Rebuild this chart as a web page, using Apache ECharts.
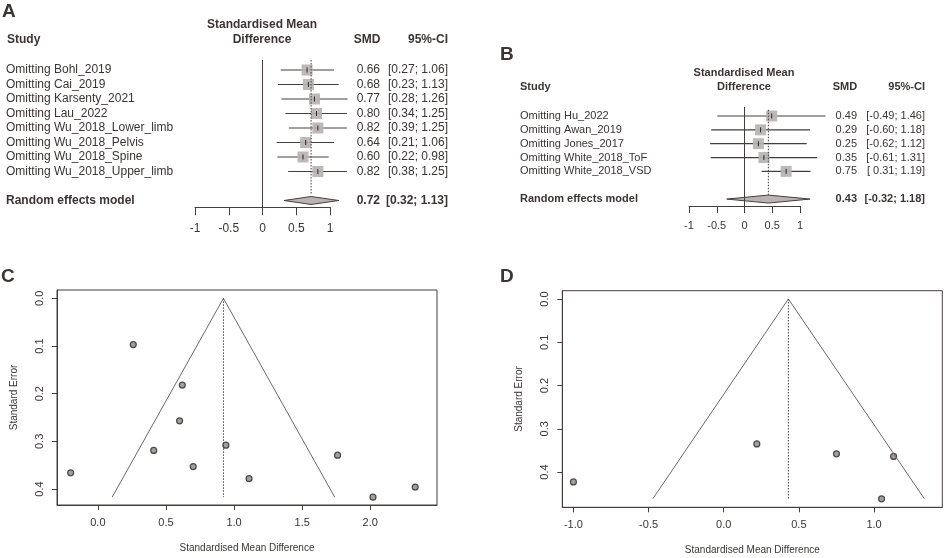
<!DOCTYPE html>
<html>
<head>
<meta charset="utf-8">
<script src="https://cdn.jsdelivr.net/npm/echarts@6/dist/echarts.min.js"></script>
<style>
  html, body { margin: 0; padding: 0; background: #fff; }
  #main { width: 948px; height: 558px; }
</style>
</head>
<body>
<div id="main"></div>
<script>
// 面板A：逐一剔除分析
const studiesA = ['Omitting Bohl_2019', 'Omitting Cai_2019', 'Omitting Karsenty_2021', 'Omitting Lau_2022',
  'Omitting Wu_2018_Lower_limb', 'Omitting Wu_2018_Pelvis', 'Omitting Wu_2018_Spine', 'Omitting Wu_2018_Upper_limb'];
const smdA = [0.66, 0.68, 0.77, 0.80, 0.82, 0.64, 0.60, 0.82];
const loA = [0.27, 0.23, 0.28, 0.34, 0.39, 0.21, 0.22, 0.38];
const hiA = [1.06, 1.13, 1.26, 1.25, 1.25, 1.06, 0.98, 1.25];
const pooledA = [0.72, 0.32, 1.13];
const ticksA = [-1, -0.5, 0, 0.5, 1];

// 面板B
const studiesB = ['Omitting Hu_2022', 'Omitting Awan_2019', 'Omitting Jones_2017', 'Omitting White_2018_ToF', 'Omitting White_2018_VSD'];
const smdB = [0.49, 0.29, 0.25, 0.35, 0.75];
const loB = [-0.49, -0.60, -0.62, -0.61, 0.31];
const hiB = [1.46, 1.18, 1.12, 1.31, 1.19];
const pooledB = [0.43, -0.32, 1.18];
const ticksB = [-1, -0.5, 0, 0.5, 1];

// 面板C：漏斗图
const smdC = [-0.20, 0.26, 0.62, 0.60, 0.41, 0.70, 0.94, 1.11, 1.76, 2.02, 2.33];
const seC = [0.366, 0.097, 0.182, 0.257, 0.319, 0.353, 0.308, 0.378, 0.329, 0.417, 0.396];
const funnelC = [[0.105, 0.417], [0.922, 0], [1.739, 0.417]];
const centerC = 0.922;
const xTicksC = [0, 0.5, 1, 1.5, 2];

// 面板D
const smdD = [-1.00, 0.22, 0.75, 1.13, 1.05];
const seD = [0.423, 0.335, 0.358, 0.364, 0.462];
const funnelD = [[-0.472, 0.462], [0.43, 0], [1.335, 0.462]];
const centerD = 0.43;
const xTicksD = [-1, -0.5, 0, 0.5, 1];
const yTicks = [0, 0.1, 0.2, 0.3, 0.4];

const FONT = '"Liberation Sans", Arial, sans-serif';
const TXT = '#3b3434';
const LINE = '#453e3e';

function ciText(lo, hi, pad) {
  return '[' + (pad && lo >= 0 ? ' ' : '') + lo.toFixed(2) + '; ' + hi.toFixed(2) + ']';
}

// 森林图数据行：研究行 0..n-1，合并结果隔一行
function makeForest(studies, smd, lo, hi, pooled, pad) {
  const n = studies.length;
  const rows = studies.map((s, i) => i).concat([n + 1]);
  const names = studies.concat(['{b|Random effects model}']);
  const smdTxt = smd.map(v => v.toFixed(2)).concat(['{b|' + pooled[0].toFixed(2) + '}']);
  const ciTxt = lo.map((v, i) => ciText(v, hi[i], pad)).concat(['{b|' + ciText(pooled[1], pooled[2], pad) + '}']);
  const items = smd.map((v, i) => [v, i, lo[i], hi[i]]);
  return { rows, names, smdTxt, ciTxt, items, pooled: [[pooled[0], n + 1, pooled[1], pooled[2]]] };
}
const fA = makeForest(studiesA, smdA, loA, hiA, pooledA, false);
const fB = makeForest(studiesB, smdB, loB, hiB, pooledB, true);

function studyItem(params, api) {
  const c = api.coord([api.value(0), api.value(1)]);
  const l = api.coord([api.value(2), api.value(1)]);
  const r = api.coord([api.value(3), api.value(1)]);
  const s = 11;
  return {
    type: 'group', children: [
      { type: 'line', shape: { x1: l[0], y1: l[1], x2: r[0], y2: r[1] }, style: { stroke: LINE, lineWidth: 1.2 } },
      { type: 'rect', shape: { x: c[0] - s / 2, y: c[1] - s / 2, width: s, height: s }, style: { fill: '#b9b3b3', opacity: 0.92 } },
      { type: 'line', shape: { x1: c[0], y1: c[1] - 2.5, x2: c[0], y2: c[1] + 2.5 }, style: { stroke: '#2a2424', lineWidth: 1 } }
    ]
  };
}
function diamondItem(params, api) {
  const c = api.coord([api.value(0), api.value(1)]);
  const l = api.coord([api.value(2), api.value(1)]);
  const r = api.coord([api.value(3), api.value(1)]);
  const h = 4;
  return {
    type: 'polygon',
    shape: { points: [[l[0], l[1]], [c[0], c[1] - h], [r[0], r[1]], [c[0], c[1] + h]] },
    style: { fill: '#b9b3b3', stroke: LINE, lineWidth: 1 }
  };
}

function forestYAxes(f, gridIndex, min, max, fs, nameMargin, smdMargin, ciMargin) {
  const rich = { b: { fontWeight: 'bold', fontSize: fs, fontFamily: FONT, color: TXT } };
  const base = {
    type: 'value', gridIndex, min, max, inverse: true,
    axisLine: { show: false, onZero: false }, axisTick: { show: false }, splitLine: { show: false }
  };
  const lab = (arr, margin, align) => ({
    customValues: f.rows, margin, align, fontSize: fs, fontFamily: FONT, color: TXT, rich,
    formatter: v => arr[f.rows.indexOf(v)]
  });
  return [
    Object.assign({}, base, { position: 'left', axisLabel: lab(f.names, nameMargin, 'left') }),
    Object.assign({}, base, { position: 'right', axisLabel: lab(f.smdTxt, smdMargin, 'right') }),
    Object.assign({}, base, { position: 'right', axisLabel: lab(f.ciTxt, ciMargin, 'right') })
  ];
}

function forestXAxis(gridIndex, ticks, fs, tickLen, margin) {
  return {
    type: 'value', gridIndex, min: -1, max: 1, position: 'bottom', splitLine: { show: false },
    axisLine: { show: true, onZero: false, lineStyle: { color: LINE, width: 1 } },
    axisTick: { show: true, customValues: ticks, length: tickLen, lineStyle: { color: LINE } },
    axisLabel: { customValues: ticks, margin, fontSize: fs, fontFamily: FONT, color: TXT }
  };
}

function funnelXAxis(gridIndex, min, max, ticks) {
  return {
    type: 'value', gridIndex, min, max, position: 'bottom', splitLine: { show: false },
    axisLine: { show: true, onZero: false, lineStyle: { color: LINE, width: 1 } },
    axisTick: { show: true, customValues: ticks, length: 5, lineStyle: { color: LINE } },
    axisLabel: { customValues: ticks, margin: 12, fontSize: 11, fontFamily: FONT, color: TXT, formatter: v => v.toFixed(1) },
    name: 'Standardised Mean Difference', nameLocation: 'middle', nameGap: 38,
    nameTextStyle: { fontSize: 10, fontFamily: FONT, color: TXT }
  };
}
function funnelYAxis(gridIndex, min, max) {
  return {
    type: 'value', gridIndex, min, max, inverse: true, position: 'left', splitLine: { show: false },
    axisLine: { show: true, onZero: false, lineStyle: { color: LINE, width: 1 } },
    axisTick: { show: true, customValues: yTicks, length: 5, lineStyle: { color: LINE } },
    axisLabel: { customValues: yTicks, rotate: 90, margin: 12, fontSize: 11, fontFamily: FONT, color: TXT, formatter: v => v.toFixed(1) },
    name: 'Standard Error', nameLocation: 'middle', nameGap: 38, nameRotate: 90,
    nameTextStyle: { fontSize: 10, fontFamily: FONT, color: TXT }
  };
}

const minA = -0.69, maxA = 9.47;
const minB = -0.65, maxB = 6.5;
const minYC = -0.0175, maxYC = 0.4335;
const minYD = -0.0192, maxYD = 0.4816;

function txt(text, x, y, align, size, bold) {
  return {
    type: 'text', x, y, silent: true,
    style: { text, align, verticalAlign: 'middle', fontSize: size, fontWeight: bold ? 'bold' : 'normal', fontFamily: FONT, fill: TXT }
  };
}

const option = {
  backgroundColor: '#fff',
  animation: false,
  graphic: [
    txt('A', 2, 12, 'left', 19, true),
    txt('B', 500, 55, 'left', 19, true),
    txt('C', 1, 277, 'left', 19, true),
    txt('D', 500, 277, 'left', 19, true),
    txt('Study', 7, 40, 'left', 12, true),
    txt('Standardised Mean', 262, 25, 'center', 12, true),
    txt('Difference', 262, 40, 'center', 12, true),
    txt('SMD', 367, 40, 'center', 12, true),
    txt('95%-CI', 448, 40, 'right', 12, true),
    txt('Study', 520, 87, 'left', 11, true),
    txt('Standardised Mean', 744, 73, 'center', 11, true),
    txt('Difference', 744, 87, 'center', 11, true),
    txt('SMD', 845, 87, 'center', 11, true),
    txt('95%-CI', 925, 87, 'right', 11, true)
  ],
  grid: [
    { left: 195, top: 60, width: 135, height: 147.3 },
    { left: 689, top: 107, width: 111, height: 99 },
    { left: 57, top: 290, width: 380, height: 215, show: true, borderColor: LINE, borderWidth: 1 },
    { left: 562.3, top: 290.7, width: 380, height: 216.6, show: true, borderColor: LINE, borderWidth: 1 }
  ],
  xAxis: [
    forestXAxis(0, ticksA, 12, 8, 15),
    forestXAxis(1, ticksB, 11, 7, 14),
    funnelXAxis(2, -0.3, 2.49, xTicksC),
    funnelXAxis(3, -1.074, 1.454, xTicksD)
  ],
  yAxis: [].concat(
    forestYAxes(fA, 0, minA, maxA, 12, 189, 50, 118),
    forestYAxes(fB, 1, minB, maxB, 11, 169, 57, 125),
    [funnelYAxis(2, minYC, maxYC), funnelYAxis(3, minYD, maxYD)]
  ),
  series: [
    // A
    { type: 'line', xAxisIndex: 0, yAxisIndex: 0, data: [[0, minA], [0, maxA]], showSymbol: false, lineStyle: { color: LINE, width: 1 } },
    { type: 'line', xAxisIndex: 0, yAxisIndex: 0, data: [[pooledA[0], minA], [pooledA[0], 8.6]], showSymbol: false, lineStyle: { color: LINE, width: 1, type: [1.5, 1.5] } },
    { type: 'custom', xAxisIndex: 0, yAxisIndex: 0, clip: false, renderItem: studyItem, encode: { x: [0, 2, 3], y: 1 }, data: fA.items },
    { type: 'custom', xAxisIndex: 0, yAxisIndex: 0, clip: false, renderItem: diamondItem, encode: { x: [0, 2, 3], y: 1 }, data: fA.pooled },
    // B
    { type: 'line', xAxisIndex: 1, yAxisIndex: 3, data: [[0, minB], [0, maxB]], showSymbol: false, lineStyle: { color: LINE, width: 1 } },
    { type: 'line', xAxisIndex: 1, yAxisIndex: 3, data: [[pooledB[0], minB + 0.2], [pooledB[0], 5.7]], showSymbol: false, lineStyle: { color: LINE, width: 1, type: [1.5, 1.5] } },
    { type: 'custom', xAxisIndex: 1, yAxisIndex: 3, clip: false, renderItem: studyItem, encode: { x: [0, 2, 3], y: 1 }, data: fB.items },
    { type: 'custom', xAxisIndex: 1, yAxisIndex: 3, clip: false, renderItem: diamondItem, encode: { x: [0, 2, 3], y: 1 }, data: fB.pooled },
    // C
    { type: 'line', xAxisIndex: 2, yAxisIndex: 6, data: funnelC, showSymbol: false, lineStyle: { color: '#6e6868', width: 1 } },
    { type: 'line', xAxisIndex: 2, yAxisIndex: 6, data: [[centerC, 0], [centerC, funnelC[0][1]]], showSymbol: false, lineStyle: { color: LINE, width: 1, type: [1.5, 1.5] } },
    { type: 'scatter', xAxisIndex: 2, yAxisIndex: 6, data: smdC.map((v, i) => [v, seC[i]]), symbolSize: 6,
      itemStyle: { color: '#8d8787', borderColor: '#2e2828', borderWidth: 1.2 } },
    // D
    { type: 'line', xAxisIndex: 3, yAxisIndex: 7, data: funnelD, showSymbol: false, lineStyle: { color: '#6e6868', width: 1 } },
    { type: 'line', xAxisIndex: 3, yAxisIndex: 7, data: [[centerD, 0], [centerD, funnelD[0][1]]], showSymbol: false, lineStyle: { color: LINE, width: 1, type: [1.5, 1.5] } },
    { type: 'scatter', xAxisIndex: 3, yAxisIndex: 7, data: smdD.map((v, i) => [v, seD[i]]), symbolSize: 6,
      itemStyle: { color: '#8d8787', borderColor: '#2e2828', borderWidth: 1.2 } }
  ]
};

const myChart = echarts.init(document.getElementById('main'));
myChart.setOption(option);
</script>
</body>
</html>
